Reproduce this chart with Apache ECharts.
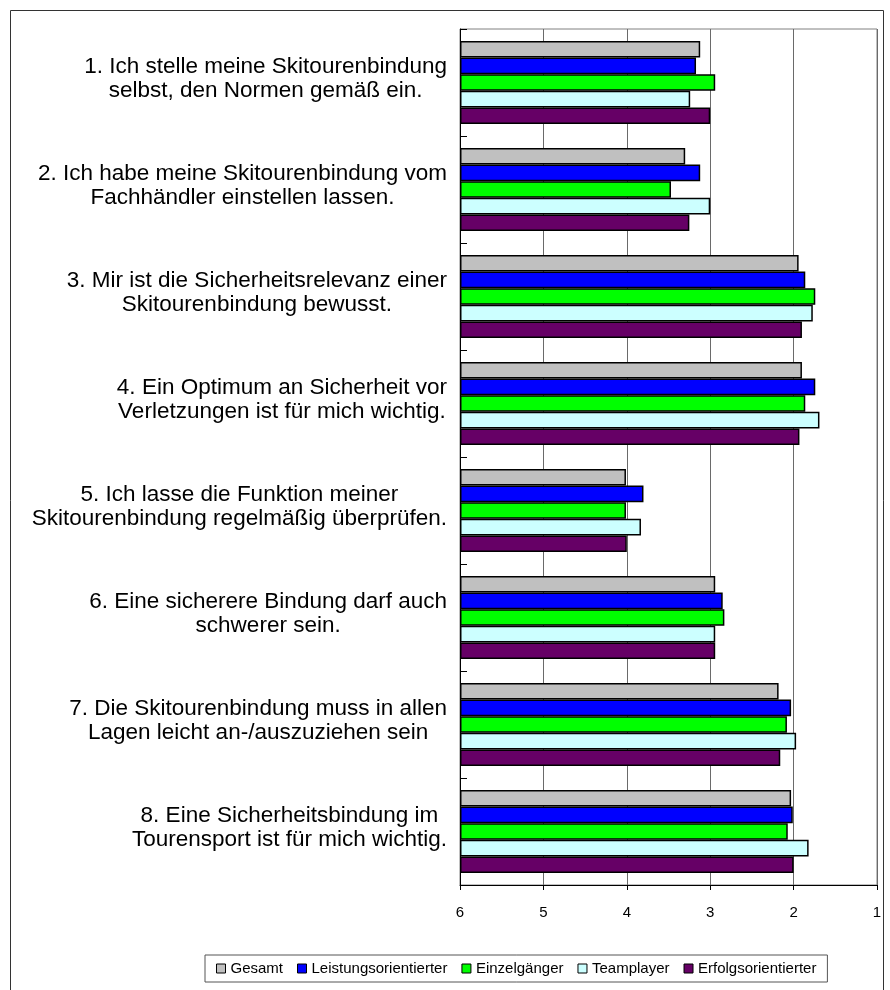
<!DOCTYPE html>
<html><head><meta charset="utf-8">
<script src="https://cdn.jsdelivr.net/npm/echarts@6/dist/echarts.min.js"></script>
<style>html,body{margin:0;padding:0;background:#fff}#c{width:890px;height:990px}</style>
</head><body><div id="c"></div>
<script>
const categories = [
  ['1. Ich stelle meine Skitourenbindung', 'selbst, den Normen gemäß ein.'],
  ['2. Ich habe meine Skitourenbindung vom', 'Fachhändler einstellen lassen.'],
  ['3. Mir ist die Sicherheitsrelevanz einer', 'Skitourenbindung bewusst.'],
  ['4. Ein Optimum an Sicherheit vor', 'Verletzungen ist für mich wichtig.'],
  ['5. Ich lasse die Funktion meiner', 'Skitourenbindung regelmäßig überprüfen.'],
  ['6. Eine sicherere Bindung darf auch', 'schwerer sein.'],
  ['7. Die Skitourenbindung muss in allen', 'Lagen leicht an-/auszuziehen sein'],
  ['8. Eine Sicherheitsbindung im', 'Tourensport ist für mich wichtig.']
];
const seriesNames = ['Gesamt', 'Leistungsorientierter', 'Einzelgänger', 'Teamplayer', 'Erfolgsorientierter'];
const gesamt   = [3.12, 3.30, 1.94, 1.90, 4.01, 2.94, 2.18, 2.03];
const leistung = [3.17, 3.12, 1.86, 1.74, 3.80, 2.85, 2.03, 2.01];
const einzel   = [2.94, 3.47, 1.74, 1.86, 4.01, 2.83, 2.08, 2.07];
const team     = [3.24, 3.00, 1.77, 1.69, 3.83, 2.94, 1.97, 1.82];
const erfolg   = [3.00, 3.25, 1.90, 1.93, 4.00, 2.94, 2.16, 2.00];
const tickMin = 1, tickMax = 6, tickStep = 1;

const colors = ['#C0C0C0', '#0000FF', '#00FF00', '#CCFFFF', '#660066'];
const allData = [gesamt, leistung, einzel, team, erfolg];
const FONT = 'Arial, "Liberation Sans", sans-serif';

const chart = echarts.init(document.getElementById('c'), null, {renderer: 'canvas'});
chart.setOption({
  backgroundColor: '#fff',
  animation: false,
  textStyle: {fontFamily: FONT, color: '#000'},
  graphic: [{
    type: 'rect', shape: {x: 10.5, y: 10.5, width: 873, height: 995},
    style: {fill: 'none', stroke: '#333', lineWidth: 1}, z: 100
  }],
  grid: {left: 460, right: 13, top: 29, bottom: 105, show: true, borderColor: '#808080', borderWidth: 1},
  legend: {
    data: seriesNames, left: 205, top: 955, orient: 'horizontal',
    padding: [6, 11], itemWidth: 9, itemHeight: 9, itemGap: 14,
    borderColor: '#555', borderWidth: 1,
    textStyle: {fontFamily: FONT, fontSize: 15, color: '#000'},
    itemStyle: {borderColor: '#000', borderWidth: 1},
    icon: 'rect'
  },
  xAxis: {
    type: 'value', min: tickMin, max: tickMax, interval: tickStep, inverse: true, startValue: 6,
    axisLine: {show: true, lineStyle: {color: '#000', width: 1}},
    axisTick: {show: true, length: 5, lineStyle: {color: '#000'}},
    axisLabel: {fontFamily: FONT, fontSize: 15, color: '#000', margin: 20},
    splitLine: {show: true, lineStyle: {color: '#6a6a6a', width: 1}}
  },
  yAxis: {
    type: 'category', inverse: true,
    data: categories.map(c => c.join('\n')),
    axisLine: {show: true, lineStyle: {color: '#000', width: 1}},
    axisTick: {show: true, inside: true, length: 7, lineStyle: {color: '#000'}},
    axisLabel: {
      margin: 13, align: 'right', padding: [0, 0, 8, 0],
      formatter: v => v.split('\n').map(s => '{c|' + s + '}').join('\n'),
      rich: {c: {fontFamily: FONT, fontSize: 22.5, lineHeight: 24, align: 'center', color: '#000'}}
    },
    splitLine: {show: false}
  },
  series: seriesNames.map((n, i) => ({
    name: n, type: 'bar', data: allData[i],
    barGap: '0%', barCategoryGap: '22.4%',
    itemStyle: {color: colors[i], borderColor: '#000', borderWidth: 1.5}
  }))
});
</script></body></html>
